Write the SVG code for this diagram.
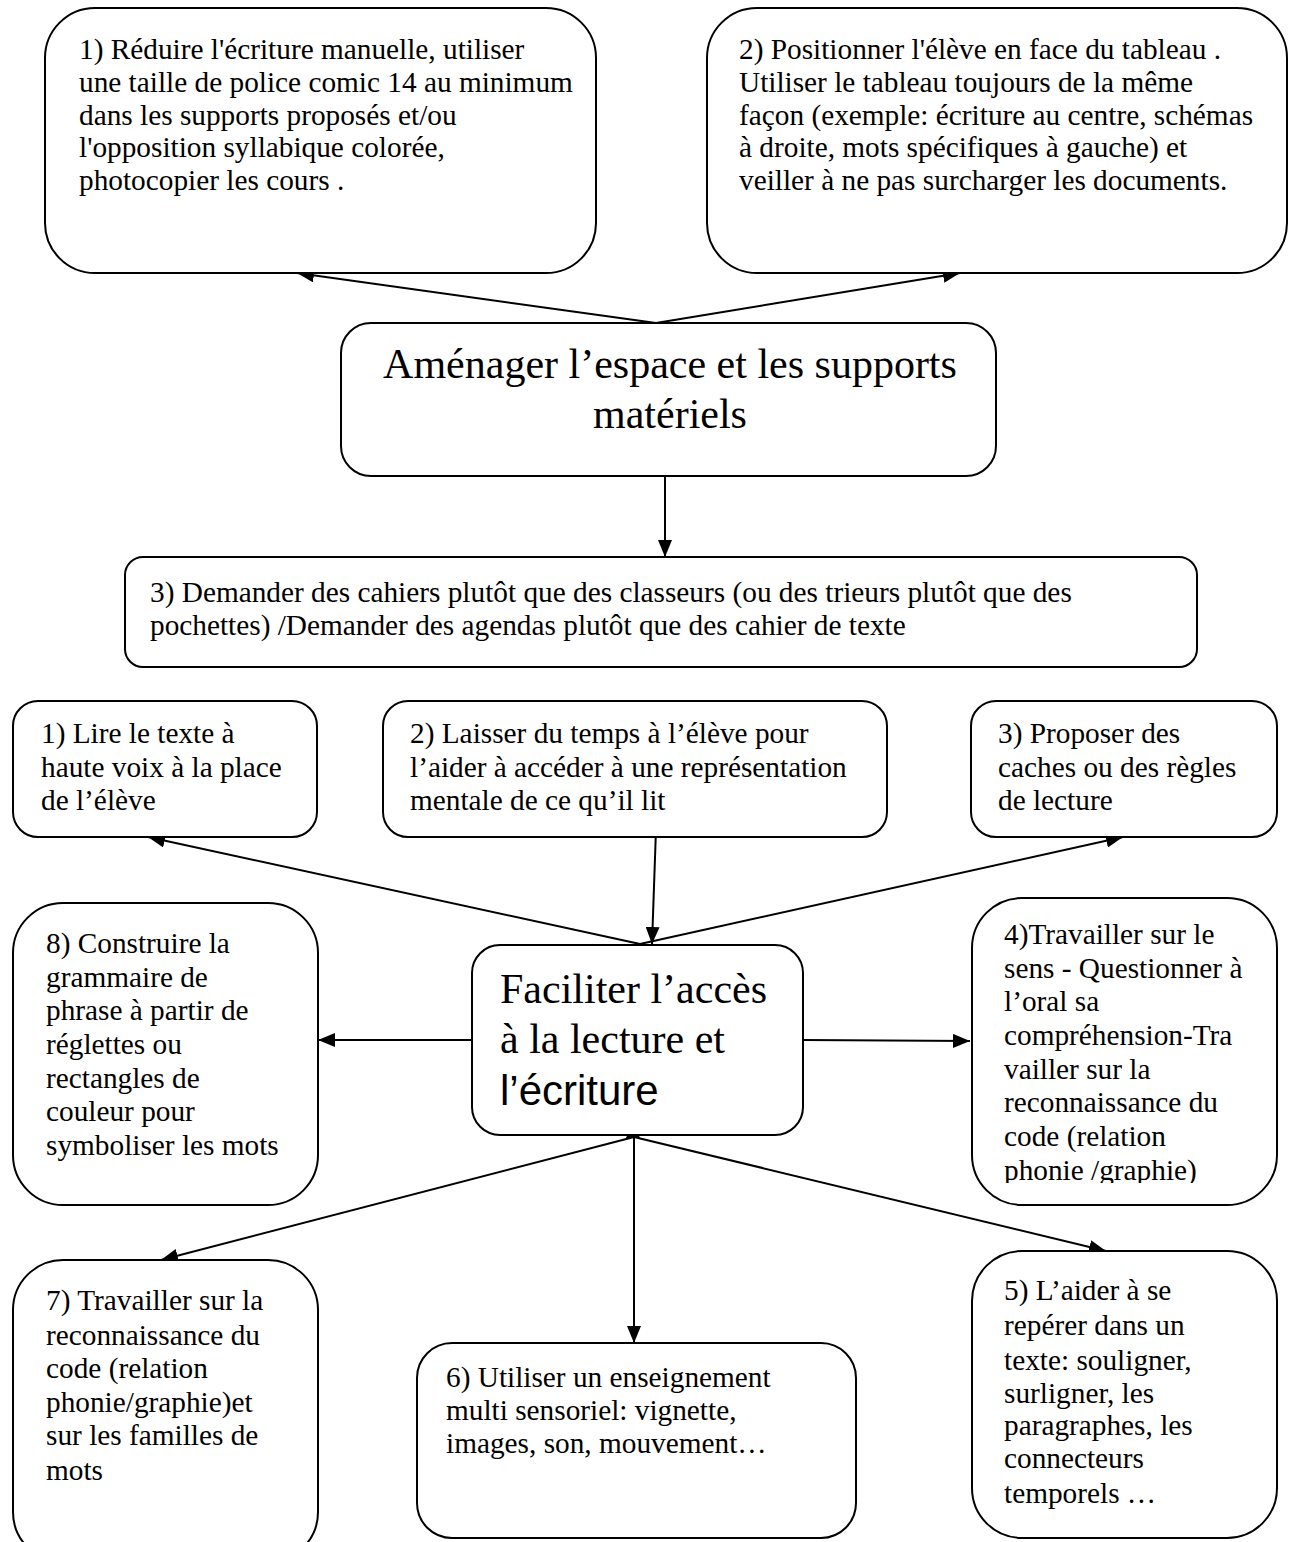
<svg xmlns="http://www.w3.org/2000/svg" width="1293" height="1542" viewBox="0 0 1293 1542">
<style>
.box{fill:#fff;stroke:#000;stroke-width:2}
.t{font-family:"Liberation Serif","Times New Roman",serif;font-size:29.3px;fill:#000}
.big{font-family:"Liberation Serif","Times New Roman",serif;font-size:42px;fill:#000}
.sans{font-family:"Liberation Sans",Arial,sans-serif;font-size:42px}
.c{fill:none;stroke:#000;stroke-width:2}
</style>
<defs>
<marker id="ah" markerUnits="userSpaceOnUse" markerWidth="18" markerHeight="14" refX="17" refY="7" orient="auto">
<path d="M0,0 L17,7 L0,14 z" fill="#000"/>
</marker>
<clipPath id="clip4"><rect x="972" y="895" width="306" height="288"/></clipPath>
</defs>
<rect width="1293" height="1542" fill="#fff"/>

<g id="connectors">
<line class="c" x1="656" y1="323" x2="297" y2="273" marker-end="url(#ah)"/>
<line class="c" x1="656" y1="323" x2="960" y2="273" marker-end="url(#ah)"/>
<line class="c" x1="665" y1="476" x2="665" y2="557" marker-end="url(#ah)"/>
<line class="c" x1="640" y1="944" x2="148" y2="837" marker-end="url(#ah)"/>
<line class="c" x1="656" y1="829" x2="652" y2="944" marker-end="url(#ah)"/>
<line class="c" x1="640" y1="944" x2="1123" y2="837" marker-end="url(#ah)"/>
<line class="c" x1="472" y1="1040" x2="318" y2="1040" marker-end="url(#ah)"/>
<line class="c" x1="803" y1="1040" x2="970" y2="1041" marker-end="url(#ah)"/>
<line class="c" x1="633" y1="1138" x2="633" y2="1121" marker-end="url(#ah)"/>
<line class="c" x1="634" y1="1137" x2="161" y2="1260" marker-end="url(#ah)"/>
<line class="c" x1="634" y1="1137" x2="634" y2="1343" marker-end="url(#ah)"/>
<line class="c" x1="634" y1="1137" x2="1106" y2="1251" marker-end="url(#ah)"/>
</g>

<g id="n-top1">
<rect class="box" x="45" y="8" width="551" height="265" rx="50"/>
<text class="t" x="79" y="59">1) Réduire l'écriture manuelle, utiliser</text>
<text class="t" x="79" y="92">une taille de police comic 14 au minimum</text>
<text class="t" x="79" y="125">dans les supports proposés et/ou</text>
<text class="t" x="79" y="157">l'opposition syllabique colorée,</text>
<text class="t" x="79" y="190">photocopier les cours .</text>
</g>

<g id="n-top2">
<rect class="box" x="707" y="8" width="580" height="265" rx="50"/>
<text class="t" x="739" y="59">2) Positionner l'élève en face du tableau .</text>
<text class="t" x="739" y="92">Utiliser le tableau toujours de la même</text>
<text class="t" x="739" y="125">façon (exemple: écriture au centre, schémas</text>
<text class="t" x="739" y="157">à droite, mots spécifiques à gauche) et</text>
<text class="t" x="739" y="190">veiller à ne pas surcharger les documents.</text>
</g>

<g id="n-amenager">
<rect class="box" x="341" y="323" width="655" height="153" rx="30"/>
<text class="big" x="670" y="378" text-anchor="middle">Aménager l’espace et les supports</text>
<text class="big" x="670" y="428" text-anchor="middle">matériels</text>
</g>

<g id="n-top3">
<rect class="box" x="125" y="557" width="1072" height="110" rx="18"/>
<text class="t" x="150" y="602">3) Demander des cahiers plutôt que des classeurs (ou des trieurs plutôt que des</text>
<text class="t" x="150" y="635">pochettes) /Demander des agendas plutôt que des cahier de texte</text>
</g>

<g id="n-l1">
<rect class="box" x="13" y="701" width="304" height="136" rx="25"/>
<text class="t" x="41" y="743">1) Lire le texte à</text>
<text class="t" x="41" y="777">haute voix à la place</text>
<text class="t" x="41" y="810">de l’élève</text>
</g>

<g id="n-l2">
<rect class="box" x="383" y="701" width="504" height="136" rx="25"/>
<text class="t" x="410" y="743">2) Laisser du temps à l’élève pour</text>
<text class="t" x="410" y="777">l’aider à accéder à une représentation</text>
<text class="t" x="410" y="810">mentale de ce qu’il lit</text>
</g>

<g id="n-l3">
<rect class="box" x="971" y="701" width="306" height="136" rx="25"/>
<text class="t" x="998" y="743">3) Proposer des</text>
<text class="t" x="998" y="777">caches ou des règles</text>
<text class="t" x="998" y="810">de lecture</text>
</g>

<g id="n-center">
<rect class="box" x="472" y="945" width="331" height="190" rx="28"/>
<text class="big" x="500" y="1003">Faciliter l’accès</text>
<text class="big" x="500" y="1053">à la lecture et</text>
<text class="sans" x="500" y="1105">l’écriture</text>
</g>

<g id="n-8">
<rect class="box" x="13" y="903" width="305" height="302" rx="50"/>
<text class="t" x="46" y="953">8) Construire la</text>
<text class="t" x="46" y="987">grammaire de</text>
<text class="t" x="46" y="1020">phrase à partir de</text>
<text class="t" x="46" y="1054">réglettes ou</text>
<text class="t" x="46" y="1088">rectangles de</text>
<text class="t" x="46" y="1121">couleur pour</text>
<text class="t" x="46" y="1155">symboliser les mots</text>
</g>

<g id="n-4">
<rect class="box" x="972" y="898" width="305" height="307" rx="50"/>
<g clip-path="url(#clip4)">
<text class="t" x="1004" y="944">4)Travailler sur le</text>
<text class="t" x="1004" y="978">sens - Questionner à</text>
<text class="t" x="1004" y="1011">l’oral sa</text>
<text class="t" x="1004" y="1045">compréhension-Tra</text>
<text class="t" x="1004" y="1079">vailler sur la</text>
<text class="t" x="1004" y="1112">reconnaissance du</text>
<text class="t" x="1004" y="1146">code (relation</text>
<text class="t" x="1004" y="1180">phonie /graphie)</text>
</g>
</g>

<g id="n-7">
<rect class="box" x="13" y="1260" width="305" height="302" rx="50"/>
<text class="t" x="46" y="1310">7) Travailler sur la</text>
<text class="t" x="46" y="1345">reconnaissance du</text>
<text class="t" x="46" y="1378">code (relation</text>
<text class="t" x="46" y="1412">phonie/graphie)et</text>
<text class="t" x="46" y="1445">sur les familles de</text>
<text class="t" x="46" y="1480">mots</text>
</g>

<g id="n-6">
<rect class="box" x="417" y="1343" width="439" height="195" rx="35"/>
<text class="t" x="446" y="1387">6) Utiliser un enseignement</text>
<text class="t" x="446" y="1420">multi sensoriel: vignette,</text>
<text class="t" x="446" y="1453">images, son, mouvement…</text>
</g>

<g id="n-5">
<rect class="box" x="972" y="1251" width="305" height="287" rx="50"/>
<text class="t" x="1004" y="1300">5) L’aider à se</text>
<text class="t" x="1004" y="1335">repérer dans un</text>
<text class="t" x="1004" y="1370">texte: souligner,</text>
<text class="t" x="1004" y="1403">surligner, les</text>
<text class="t" x="1004" y="1435">paragraphes, les</text>
<text class="t" x="1004" y="1468">connecteurs</text>
<text class="t" x="1004" y="1503">temporels …</text>
</g>
</svg>
